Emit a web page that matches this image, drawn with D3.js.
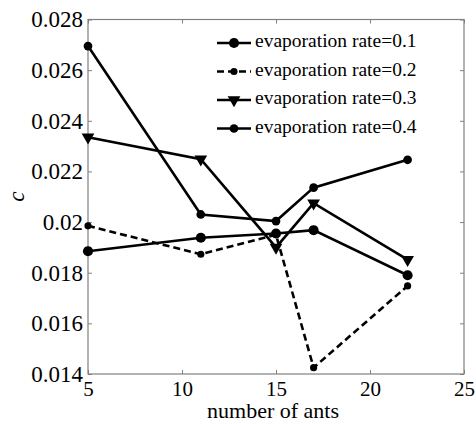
<!DOCTYPE html>
<html>
<head>
<meta charset="utf-8">
<script src="https://cdn.jsdelivr.net/npm/d3@7"></script>
<style>
  body { margin: 0; background: #fff; }
</style>
</head>
<body>
<div id="chart"></div>
<script>
// number of ants on the x axis
const ants = [5, 11, 15, 17, 22];

// c value for each evaporation rate
const rate01 = [0.01885, 0.01938, 0.01955, 0.01968, 0.0179];
const rate02 = [0.01985, 0.01873, 0.0195, 0.01425, 0.01748];
const rate03 = [0.02335, 0.02248, 0.0190, 0.02075, 0.01852];
const rate04 = [0.02695, 0.0203, 0.02004, 0.02136, 0.02246];

const seriesNames = ["evaporation rate=0.1", "evaporation rate=0.2", "evaporation rate=0.3", "evaporation rate=0.4"];

const xTicks = [5, 10, 15, 20, 25];
const yTicks = [0.014, 0.016, 0.018, 0.02, 0.022, 0.024, 0.026, 0.028];

const w = 476, h = 424;
const padLeft = 88, padRight = 464, padTop = 19.5, padBottom = 374;
const serif = "'Liberation Serif', 'Times New Roman', Tinos, 'DejaVu Serif', serif";

const svg = d3.select("#chart").append("svg").attr("width", w).attr("height", h);

const xScale = d3.scaleLinear().domain([5, 25]).range([padLeft, padRight]);
const yScale = d3.scaleLinear().domain([0.014, 0.028]).range([padBottom, padTop]);

// frame
svg.append("rect")
  .attr("x", padLeft).attr("y", padTop)
  .attr("width", padRight - padLeft).attr("height", padBottom - padTop)
  .attr("fill", "none").attr("stroke", "#808080").attr("stroke-width", 1.2);

const tickLen = 4;
const axisStyle = (g) => {
  g.attr("font-family", null);
  g.select(".domain").remove();
  g.selectAll(".tick line").attr("stroke", "#808080");
  g.selectAll(".tick text").style("font-family", serif).style("font-size", "21px").attr("fill", "#000");
};

svg.append("g")
  .attr("transform", `translate(0,${padBottom})`)
  .call(d3.axisBottom(xScale).tickValues(xTicks).tickSize(-tickLen).tickPadding(7).tickFormat(d3.format("d")))
  .call(axisStyle);

svg.append("g")
  .attr("transform", `translate(0,${padTop})`)
  .call(d3.axisTop(xScale).tickValues(xTicks).tickSize(-tickLen).tickFormat(""))
  .call(axisStyle);

svg.append("g")
  .attr("transform", `translate(${padLeft},0)`)
  .call(d3.axisLeft(yScale).tickValues(yTicks).tickSize(-tickLen).tickPadding(5).tickFormat((d) => String(+d.toFixed(3))))
  .call(axisStyle);

// y labels in the reference read a bit larger than the x ones
svg.selectAll("g").filter(function () { return this.getAttribute("transform") === `translate(${padLeft},0)`; })
  .selectAll(".tick text").style("font-size", "23px");

svg.append("g")
  .attr("transform", `translate(${padRight},0)`)
  .call(d3.axisRight(yScale).tickValues(yTicks).tickSize(-tickLen).tickFormat(""))
  .call(axisStyle);

// axis titles
svg.append("text")
  .attr("x", (padLeft + padRight) / 2 - 3).attr("y", 418)
  .attr("text-anchor", "middle")
  .style("font-family", serif).style("font-size", "22px")
  .text("number of ants");

svg.append("text")
  .attr("transform", `translate(24,${(padTop + padBottom) / 2}) rotate(-90)`)
  .attr("text-anchor", "middle")
  .style("font-family", serif).style("font-size", "23px").style("font-style", "italic")
  .text("c");

const allSeries = [rate01, rate02, rate03, rate04];
const dashes = [null, "7,4", null, null];
const markers = [
  { type: d3.symbolCircle, size: 80 },
  { type: d3.symbolCircle, size: 40 },
  { type: d3.symbolTriangle, size: 70, flip: true },
  { type: d3.symbolCircle, size: 60 }
];

const line = d3.line().x((d) => xScale(d[0])).y((d) => yScale(d[1]));

allSeries.forEach((vals, i) => {
  const pts = ants.map((a, j) => [a, vals[j]]);
  svg.append("path")
    .attr("d", line(pts))
    .attr("fill", "none")
    .attr("stroke", "#000")
    .attr("stroke-width", 2.6)
    .attr("stroke-dasharray", dashes[i]);

  svg.selectAll(null).data(pts).enter().append("path")
    .attr("d", d3.symbol().type(markers[i].type).size(markers[i].size))
    .attr("transform", (d) => `translate(${xScale(d[0])},${yScale(d[1])})${markers[i].flip ? " rotate(180)" : ""}`)
    .attr("fill", "#000");
});

// legend
const legX = 217, legY = 43, legStep = 28.5;
seriesNames.forEach((name, i) => {
  const y = legY + i * legStep;
  svg.append("line")
    .attr("x1", legX).attr("x2", legX + 34).attr("y1", y).attr("y2", y)
    .attr("stroke", "#000").attr("stroke-width", 2.6)
    .attr("stroke-dasharray", dashes[i]);
  svg.append("path")
    .attr("d", d3.symbol().type(markers[i].type).size(markers[i].size))
    .attr("transform", `translate(${legX + 17},${y})${markers[i].flip ? " rotate(180)" : ""}`)
    .attr("fill", "#000");
  svg.append("text")
    .attr("x", legX + 38).attr("y", y + 4)
    .style("font-family", serif).style("font-size", "19.5px")
    .text(name);
});
</script>
</body>
</html>
